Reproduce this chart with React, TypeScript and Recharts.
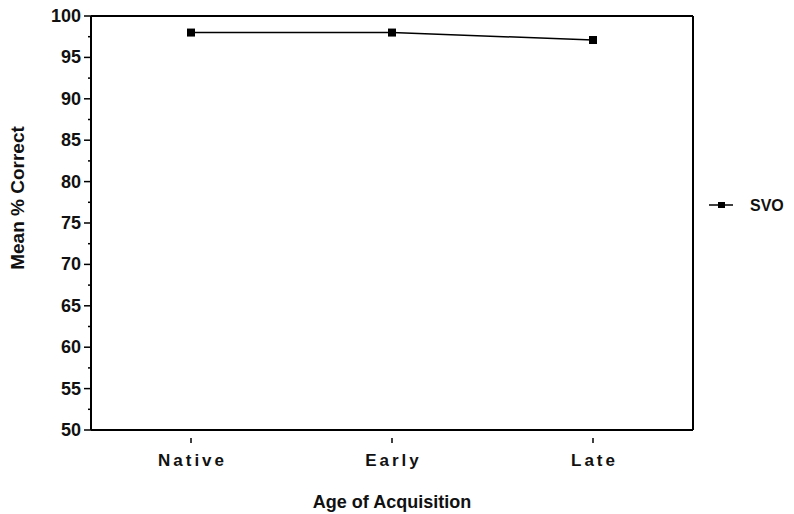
import React from "react";
import { LineChart, Line, XAxis, YAxis, Legend, CartesianGrid } from "recharts";

// Edad de adquisición vs. porcentaje medio de respuestas correctas
const categories = ["Native", "Early", "Late"];
const svoValues = [98.0, 98.0, 97.1];
const yTicks = [50, 52.5, 55, 57.5, 60, 62.5, 65, 67.5, 70, 72.5, 75, 77.5, 80, 82.5, 85, 87.5, 90, 92.5, 95, 97.5, 100];

const data = categories.map((c, i) => ({ group: c, SVO: svoValues[i] }));

const FONT = "'Liberation Sans', Arial, Helvetica, sans-serif";

const YTick = (props: any) => {
  const { x, y, payload } = props;
  const v = payload.value;
  const major = v % 5 === 0;
  return (
    <g>
      <line x1={x - (major ? 7 : 3)} x2={x} y1={y} y2={y} stroke="#000" strokeWidth={1.5} />
      {major && (
        <text x={x - 10} y={y} dy={6} textAnchor="end" fontFamily={FONT} fontWeight="bold" fontSize={18} fill="#111">
          {v}
        </text>
      )}
    </g>
  );
};

const XTick = (props: any) => {
  const { x, y, payload } = props;
  return (
    <g>
      <line x1={x} x2={x} y1={y} y2={y + 5} stroke="#000" strokeWidth={1.5} />
      <text x={x + 1.5} y={y + 28} textAnchor="middle" fontFamily={FONT} fontWeight="bold" fontSize={17} letterSpacing={3} fill="#111">
        {payload.value}
      </text>
    </g>
  );
};

const SquareDot = (props: any) => {
  const { cx, cy } = props;
  return <rect x={cx - 4} y={cy - 4} width={8} height={8} fill="#000" />;
};

// titulos de ejes
const XTitle = () => (
  <text x={392} y={508} textAnchor="middle" fontFamily={FONT} fontWeight="bold" fontSize={18} fill="#111">
    Age of Acquisition
  </text>
);

const YTitle = () => (
  <text x={24} y={198} transform="rotate(-90 24 198)" textAnchor="middle" fontFamily={FONT} fontWeight="bold" fontSize={19} fill="#111">
    Mean % Correct
  </text>
);

const LegendBox = () => (
  <svg width={90} height={24} style={{ overflow: "visible" }}>
    <line x1={9} x2={33} y1={12} y2={12} stroke="#000" strokeWidth={1.5} />
    <rect x={18} y={9} width={7} height={6} fill="#000" />
    <text x={50} y={18} fontFamily={FONT} fontWeight="bold" fontSize={16} fill="#111">
      SVO
    </text>
  </svg>
);

export default function App() {
  return (
    <div style={{ position: "absolute", left: 0, top: 0, background: "#fff" }}>
      <LineChart width={794} height={514} data={data} margin={{ top: 16, right: 101, bottom: 24, left: 0 }}>
        <CartesianGrid
          stroke="#000"
          strokeWidth={2}
          horizontalCoordinatesGenerator={({ offset }: any) => [offset.top]}
          verticalCoordinatesGenerator={({ offset }: any) => [offset.left + offset.width]}
        />
        <XAxis
          dataKey="group"
          height={60}
          padding={{ left: 100, right: 100 }}
          tick={<XTick />}
          tickLine={false}
          axisLine={{ stroke: "#000", strokeWidth: 2 }}
          label={<XTitle />}
        />
        <YAxis
          width={91}
          domain={[50, 100]}
          ticks={yTicks}
          interval={0}
          tickSize={0}
          tickMargin={0}
          tick={<YTick />}
          tickLine={false}
          axisLine={{ stroke: "#000", strokeWidth: 2 }}
          label={<YTitle />}
        />
        <Line
          dataKey="SVO"
          stroke="#000"
          strokeWidth={1.5}
          dot={<SquareDot />}
          isAnimationActive={false}
        />
        <Legend
          content={<LegendBox />}
          wrapperStyle={{ position: "absolute", left: 700, top: 193, width: 90, height: 0, overflow: "visible" }}
        />
      </LineChart>
    </div>
  );
}
